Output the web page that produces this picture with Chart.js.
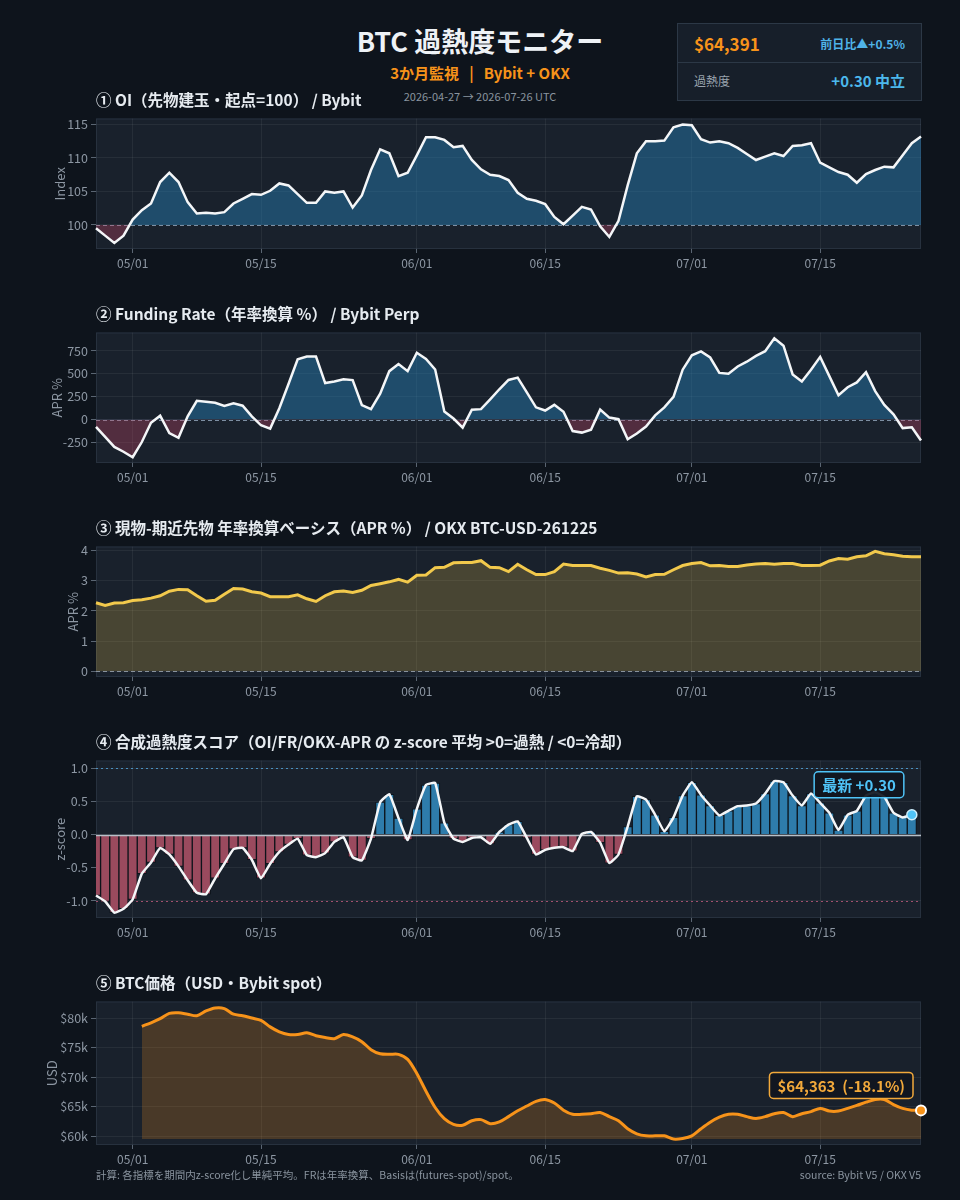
<!DOCTYPE html>
<html><head><meta charset="utf-8">
<script src="https://cdn.jsdelivr.net/npm/chart.js@4.4.1/dist/chart.umd.min.js"></script>
<style>
html,body{margin:0;padding:0;background:#0e141c;}
body{width:960px;height:1200px;position:relative;overflow:hidden;font-family:"Noto Sans CJK JP","Noto Sans",sans-serif;}
.t{position:absolute;white-space:nowrap;z-index:2;}
canvas{position:absolute;left:0;z-index:1;}
.box{position:absolute;left:677px;top:23px;width:243px;height:76px;border:1px solid #2c3846;background:#171f2a;z-index:1;}
.div{position:absolute;left:0;right:0;top:38px;height:1px;background:#2c3846;}
.pt{left:96px;font-size:15.5px;line-height:20px;font-weight:700;color:#e6ebf0;}
</style></head><body>

<div class="t" style="left:0;width:960px;text-align:center;top:24px;font-size:27px;line-height:34px;font-weight:700;color:#eef2f6;">BTC 過熱度モニター</div>
<div class="t" style="left:0;width:960px;text-align:center;top:63px;font-size:15px;line-height:20px;font-weight:700;color:#f7931a;">3か月監視&nbsp;&nbsp;&nbsp;|&nbsp;&nbsp;&nbsp;Bybit + OKX</div>
<div class="t" style="left:0;width:960px;text-align:center;top:89px;font-size:11px;line-height:14px;color:#8a949f;">2026-04-27 → 2026-07-26 UTC</div>

<div class="box"><div class="div"></div></div>
<div class="t" style="left:694px;top:33px;font-size:17px;line-height:22px;font-weight:700;color:#f7931a;">$64,391</div>
<div class="t" style="right:55px;top:36px;font-size:12px;line-height:16px;font-weight:700;color:#4fb3e8;">前日比▲+0.5%</div>
<div class="t" style="left:694px;top:73px;font-size:12px;line-height:16px;color:#9aa4ae;">過熱度</div>
<div class="t" style="right:55px;top:71px;font-size:15px;line-height:20px;font-weight:700;color:#4cb8ec;">+0.30 中立</div>

<div class="t pt" style="top:89px;">① OI（先物建玉・起点=100） / Bybit</div>
<div class="t pt" style="top:303px;">② Funding Rate（年率換算 %） / Bybit Perp</div>
<div class="t pt" style="top:517px;">③ 現物-期近先物 年率換算ベーシス（APR %） / OKX BTC-USD-261225</div>
<div class="t pt" style="top:731px;">④ 合成過熱度スコア（OI/FR/OKX-APR の z-score 平均 &gt;0=過熱 / &lt;0=冷却）</div>
<div class="t pt" style="top:972px;">⑤ BTC価格（USD・Bybit spot）</div>

<canvas id="c1" width="960" height="167" style="top:108px;width:960px;height:167px;"></canvas>
<canvas id="c2" width="960" height="167" style="top:322px;width:960px;height:167px;"></canvas>
<canvas id="c3" width="960" height="167" style="top:536px;width:960px;height:167px;"></canvas>
<canvas id="c4" width="960" height="194" style="top:750px;width:960px;height:194px;"></canvas>
<canvas id="c5" width="960" height="180" style="top:991px;width:960px;height:180px;"></canvas>

<div class="t" style="left:96px;top:1168px;font-size:10.5px;line-height:14px;color:#8a949f;">計算: 各指標を期間内z-score化し単純平均。FRは年率換算、Basisは(futures-spot)/spot。</div>
<div class="t" style="right:39px;top:1168px;font-size:10.5px;line-height:14px;color:#8a949f;">source: Bybit V5 / OKX V5</div>

<script>
// ---------- categories ----------
const START = Date.UTC(2026, 3, 27);
const DATES = Array.from({length: 91}, (_, i) => {
  const d = new Date(START + i * 86400000);
  return String(d.getUTCMonth() + 1).padStart(2, '0') + '/' + String(d.getUTCDate()).padStart(2, '0');
});
const X_TICKS = ['05/01', '05/15', '06/01', '06/15', '07/01', '07/15'];

// ---------- series ----------
const OI = [99.5, 98.4, 97.3, 98.4, 100.8, 102.2, 103.2, 106.4, 107.8, 106.4,
  103.4, 101.7, 101.8, 101.7, 101.9, 103.2, 103.9, 104.6, 104.5, 105.1,
  106.2, 105.9, 104.6, 103.3, 103.3, 105.0, 104.8, 105.0, 102.6, 104.4,
  108.2, 111.3, 110.7, 107.3, 107.8, 110.4, 113.1, 113.1, 112.7, 111.6,
  111.8, 109.7, 108.3, 107.5, 107.3, 106.7, 104.8, 103.9, 103.6, 103.1,
  101.2, 100.1, 101.4, 102.7, 102.3, 99.8, 98.2, 100.6, 105.9, 110.7,
  112.5, 112.5, 112.6, 114.6, 115.0, 114.9, 112.8, 112.3, 112.5, 112.2,
  111.5, 110.6, 109.7, 110.2, 110.7, 110.3, 111.8, 111.9, 112.2, 109.3,
  108.6, 107.9, 107.5, 106.3, 107.6, 108.2, 108.7, 108.6, 110.4, 112.2, 113.2];

const FR = [-81, -190, -299, -352, -412, -246, -35, 42, -148, -200,
  35, 204, 194, 183, 148, 176, 151, 35, -63, -99,
  123, 387, 658, 687, 687, 398, 415, 440, 430, 158,
  113, 282, 528, 606, 528, 729, 662, 546, 88, 11,
  -88, 106, 113, 220, 330, 432, 457, 296, 133, 98,
  160, 84, -126, -143, -112, 108, 21, 3, -216, -153,
  -77, 45, 133, 248, 544, 701, 743, 677, 509, 499,
  579, 631, 694, 746, 886, 806, 492, 415, 544, 684,
  474, 265, 352, 405, 516, 310, 160, 56, -94, -84, -230];

const BASIS = [2.27, 2.18, 2.26, 2.27, 2.34, 2.37, 2.42, 2.50, 2.65, 2.71,
  2.70, 2.50, 2.32, 2.35, 2.55, 2.74, 2.72, 2.63, 2.59, 2.47,
  2.47, 2.47, 2.53, 2.40, 2.31, 2.50, 2.63, 2.66, 2.61, 2.68,
  2.84, 2.90, 2.96, 3.04, 2.95, 3.18, 3.19, 3.43, 3.44, 3.59,
  3.60, 3.60, 3.66, 3.44, 3.43, 3.30, 3.54, 3.36, 3.20, 3.20,
  3.30, 3.55, 3.50, 3.50, 3.50, 3.41, 3.34, 3.25, 3.26, 3.22,
  3.12, 3.20, 3.21, 3.36, 3.50, 3.57, 3.60, 3.49, 3.50, 3.47,
  3.47, 3.52, 3.55, 3.57, 3.54, 3.57, 3.57, 3.50, 3.50, 3.51,
  3.65, 3.73, 3.71, 3.79, 3.82, 3.97, 3.89, 3.86, 3.81, 3.79, 3.79];

const ZSCORE = [-0.92, -1.01, -1.18, -1.12, -0.98, -0.59, -0.42, -0.20, -0.30, -0.48,
  -0.69, -0.88, -0.90, -0.66, -0.44, -0.22, -0.20, -0.38, -0.66, -0.44,
  -0.26, -0.15, -0.06, -0.31, -0.34, -0.28, -0.11, -0.04, -0.34, -0.39,
  -0.06, 0.49, 0.61, 0.25, -0.08, 0.39, 0.75, 0.78, 0.18, -0.06,
  -0.11, -0.05, -0.04, -0.14, 0.04, 0.15, 0.20, -0.05, -0.30, -0.23,
  -0.20, -0.19, -0.25, 0.01, 0.04, -0.12, -0.43, -0.30, 0.12, 0.58,
  0.53, 0.30, 0.05, 0.26, 0.59, 0.79, 0.60, 0.44, 0.29, 0.36,
  0.43, 0.44, 0.47, 0.62, 0.81, 0.79, 0.59, 0.44, 0.62, 0.48,
  0.33, 0.07, 0.30, 0.36, 0.59, 0.64, 0.57, 0.33, 0.26, 0.30, null];

const PRICE = [null, null, null, null, null, 78600, 79200, 79900, 80800, 80900,
  80650, 80400, 81200, 81700, 81600, 80650, 80400, 80000, 79600, 78500,
  77650, 77200, 77200, 77500, 77000, 76700, 76500, 77200, 76800, 76000,
  74650, 73950, 73850, 73850, 73000, 70600, 67600, 64850, 62950, 62000,
  61850, 62600, 62800, 62100, 62400, 63300, 64300, 65100, 65900, 66200,
  65600, 64400, 63700, 63700, 63800, 64000, 63300, 62600, 61250, 60400,
  60050, 60050, 60050, 59500, 59600, 60050, 61250, 62350, 63200, 63700,
  63700, 63300, 63000, 63300, 63800, 64000, 63300, 63800, 64150, 64700,
  64250, 64250, 64700, 65200, 65750, 66200, 66200, 65350, 64700, 64400, 64363];

// ---------- tick values ----------
const OI_TICKS = [100, 105, 110, 115];
const FR_TICKS = [-250, 0, 250, 500, 750];
const BASIS_TICKS = [0, 1, 2, 3, 4];
const Z_TICKS = [-1.0, -0.5, 0.0, 0.5, 1.0];
const PRICE_TICKS = [60000, 65000, 70000, 75000, 80000];

// ---------- styling ----------
const FONT = '"Noto Sans CJK JP", "Noto Sans", sans-serif';
const GRID = 'rgba(255,255,255,0.06)';
const TICKC = '#8d97a3';
const TICKMARK = '#5a6572';
const PLOTBG = '#19212c';
const BLUE_FILL = 'rgba(41,128,185,0.45)';
const RED_FILL = 'rgba(190,70,100,0.35)';

Chart.defaults.font.family = FONT;

const panelPlugin = {
  id: 'panel',
  beforeDraw(chart) {
    const {ctx, chartArea: a} = chart;
    ctx.save();
    ctx.fillStyle = PLOTBG;
    ctx.fillRect(a.left, a.top, a.width, a.height);
    ctx.strokeStyle = '#27313e';
    ctx.lineWidth = 1;
    ctx.strokeRect(a.left + 0.5, a.top + 0.5, a.width - 1, a.height - 1);
    ctx.restore();
  },
  beforeDatasetsDraw(chart, args, opts) { drawRefs(chart, (opts.lines || []).filter(l => !l.afterBars)); },
  afterDatasetDraw(chart, args, opts) {
    if (args.meta.type === 'bar') drawRefs(chart, (opts.lines || []).filter(l => l.afterBars));
  }
};
function drawRefs(chart, lines) {
  const {ctx, chartArea: a} = chart;
  const y = chart.scales.y;
  lines.forEach(l => {
    const py = Math.round(y.getPixelForValue(l.value)) + 0.5;
    ctx.save();
    ctx.beginPath();
    ctx.setLineDash(l.dash || []);
    ctx.strokeStyle = l.color;
    ctx.lineWidth = l.width || 1;
    ctx.moveTo(a.left, py);
    ctx.lineTo(a.right, py);
    ctx.stroke();
    ctx.restore();
  });
}

const tagPlugin = {
  id: 'tag',
  afterDatasetsDraw(chart, args, opts) {
    if (!opts || !opts.text) return;
    const data = chart.data.datasets[opts.ds].data;
    let i = data.length - 1;
    while (i >= 0 && data[i] == null) i--;
    const pt = chart.getDatasetMeta(opts.ds).data[i];
    const ctx = chart.ctx;
    ctx.save();
    ctx.font = 'bold 15px ' + FONT;
    const w = ctx.measureText(opts.text).width + 16, h = 26;
    const right = pt.x - 8, bottom = pt.y - opts.dy;
    const left = right - w, top = bottom - h;
    ctx.beginPath();
    ctx.roundRect(left, top, w, h, 4);
    ctx.fillStyle = 'rgba(16,22,31,0.92)';
    ctx.fill();
    ctx.lineWidth = 1.5;
    ctx.strokeStyle = opts.color;
    ctx.stroke();
    ctx.fillStyle = opts.color;
    ctx.textAlign = 'center';
    ctx.textBaseline = 'middle';
    ctx.fillText(opts.text, left + w / 2, top + h / 2 + 1);
    ctx.restore();
  }
};

function xAxis() {
  return {
    type: 'category', offset: false,
    grid: {color: GRID, tickLength: 4, offset: false, tickColor: TICKMARK},
    border: {display: false},
    ticks: {color: TICKC, font: {family: FONT, size: 12}, autoSkip: false, maxRotation: 0, padding: 3},
    afterBuildTicks: s => { s.ticks = X_TICKS.map(l => ({value: DATES.indexOf(l)})); },
    afterFit: s => { s.height = 26; }
  };
}
function yAxis(o) {
  return {
    min: o.min, max: o.max,
    grid: {color: GRID, tickLength: 5, tickColor: TICKMARK},
    border: {display: false},
    ticks: {color: TICKC, font: {family: FONT, size: 12.5}, padding: 3, callback: o.fmt},
    title: {display: true, text: o.title, color: TICKC, font: {family: FONT, size: 13}, padding: {top: 3, bottom: 0}},
    afterBuildTicks: s => { s.ticks = o.ticks.map(v => ({value: v})); },
    afterFit: s => { s.width = 96 - o.padL; }
  };
}
function baseOptions(padL, y, plugins) {
  return {
    responsive: false, animation: false,
    layout: {padding: {left: padL, right: 39, top: 6, bottom: 0}},
    scales: {x: xAxis(), y: y},
    plugins: Object.assign({legend: {display: false}, tooltip: {enabled: false}}, plugins)
  };
}
const lastIdx = arr => { let i = arr.length - 1; while (i >= 0 && arr[i] == null) i--; return i; };

// ① OI
new Chart(document.getElementById('c1'), {
  type: 'line',
  data: {labels: DATES, datasets: [{
    data: OI, borderColor: '#f4f6f8', borderWidth: 2.5, pointRadius: 0, tension: 0,
    fill: {target: {value: 100}, above: BLUE_FILL, below: RED_FILL}
  }]},
  options: baseOptions(49, yAxis({min: 96.4, max: 115.9, ticks: OI_TICKS, title: 'Index', padL: 49, fmt: v => String(v)}),
    {panel: {lines: [{value: 100, color: '#7d8fa3', dash: [4, 3], width: 1}]}}),
  plugins: [panelPlugin]
});

// ② Funding rate
new Chart(document.getElementById('c2'), {
  type: 'line',
  data: {labels: DATES, datasets: [{
    data: FR, borderColor: '#f4f6f8', borderWidth: 2.5, pointRadius: 0, tension: 0,
    fill: {target: {value: 0}, above: BLUE_FILL, below: RED_FILL}
  }]},
  options: baseOptions(46, yAxis({min: -475, max: 950, ticks: FR_TICKS, title: 'APR %', padL: 46, fmt: v => String(v)}),
    {panel: {lines: [{value: 0, color: '#7d8fa3', dash: [4, 3], width: 1}]}}),
  plugins: [panelPlugin]
});

// ③ Basis
new Chart(document.getElementById('c3'), {
  type: 'line',
  data: {labels: DATES, datasets: [{
    data: BASIS, borderColor: '#f2c94c', borderWidth: 3, pointRadius: 0, tension: 0,
    fill: {target: 'origin', above: 'rgba(242,201,76,0.22)'}
  }]},
  options: baseOptions(62, yAxis({min: -0.19, max: 4.13, ticks: BASIS_TICKS, title: 'APR %', padL: 62, fmt: v => String(v)}),
    {panel: {lines: [{value: 0, color: '#8a95a0', dash: [4, 3], width: 1}]}}),
  plugins: [panelPlugin]
});

// ④ Composite z-score
const zLast = lastIdx(ZSCORE);
new Chart(document.getElementById('c4'), {
  type: 'bar',
  data: {labels: DATES, datasets: [
    {type: 'line', order: 0, data: ZSCORE, borderColor: '#f4f6f8', borderWidth: 2.5, tension: 0.12,
      pointRadius: c => c.dataIndex === zLast ? 5 : 0,
      pointBackgroundColor: '#4fc3f7', pointBorderColor: '#cdeefc', pointBorderWidth: 1.5},
    {type: 'bar', order: 1, data: ZSCORE,
      backgroundColor: ZSCORE.map(v => v >= 0 ? '#2e7cab' : '#9a4a5e'),
      borderColor: '#0d131a', borderWidth: 1, barPercentage: 1, categoryPercentage: 1}
  ]},
  options: baseOptions(49, yAxis({min: -1.26, max: 1.12, ticks: Z_TICKS, title: 'z-score', padL: 49, fmt: v => v.toFixed(1)}),
    {panel: {lines: [
      {value: 1, color: '#4a8fc0', dash: [2, 3], width: 1},
      {value: -1, color: '#a0506e', dash: [2, 3], width: 1},
      {value: 0, color: '#b8c0c8', width: 1.5, afterBars: true}
    ]},
    tag: {ds: 0, dy: 17, color: '#4fc3f7', text: '最新 ' + (ZSCORE[zLast] >= 0 ? '+' : '') + ZSCORE[zLast].toFixed(2)}}),
  plugins: [panelPlugin, tagPlugin]
});

// ⑤ Price
const pLast = lastIdx(PRICE);
const pFirst = PRICE.findIndex(v => v != null);
const pMin = Math.min(...PRICE.filter(v => v != null));
const pChg = (PRICE[pLast] / PRICE[pFirst] - 1) * 100;
new Chart(document.getElementById('c5'), {
  type: 'line',
  data: {labels: DATES, datasets: [{
    data: PRICE, borderColor: '#f7931a', borderWidth: 3, tension: 0.3,
    pointRadius: c => c.dataIndex === pLast ? 5 : 0,
    pointBackgroundColor: '#f7931a', pointBorderColor: '#ffffff', pointBorderWidth: 2,
    fill: {target: {value: pMin}, above: 'rgba(247,147,26,0.22)'}
  }]},
  options: baseOptions(41, yAxis({min: 58500, max: 82800, ticks: PRICE_TICKS, title: 'USD', padL: 41, fmt: v => '$' + (v / 1000) + 'k'}),
    {panel: {lines: []},
     tag: {ds: 0, dy: 12, color: '#f2a93b', text: '$' + PRICE[pLast].toLocaleString('en-US') + '  (' + pChg.toFixed(1) + '%)'}}),
  plugins: [panelPlugin, tagPlugin]
});
</script>
</body></html>
